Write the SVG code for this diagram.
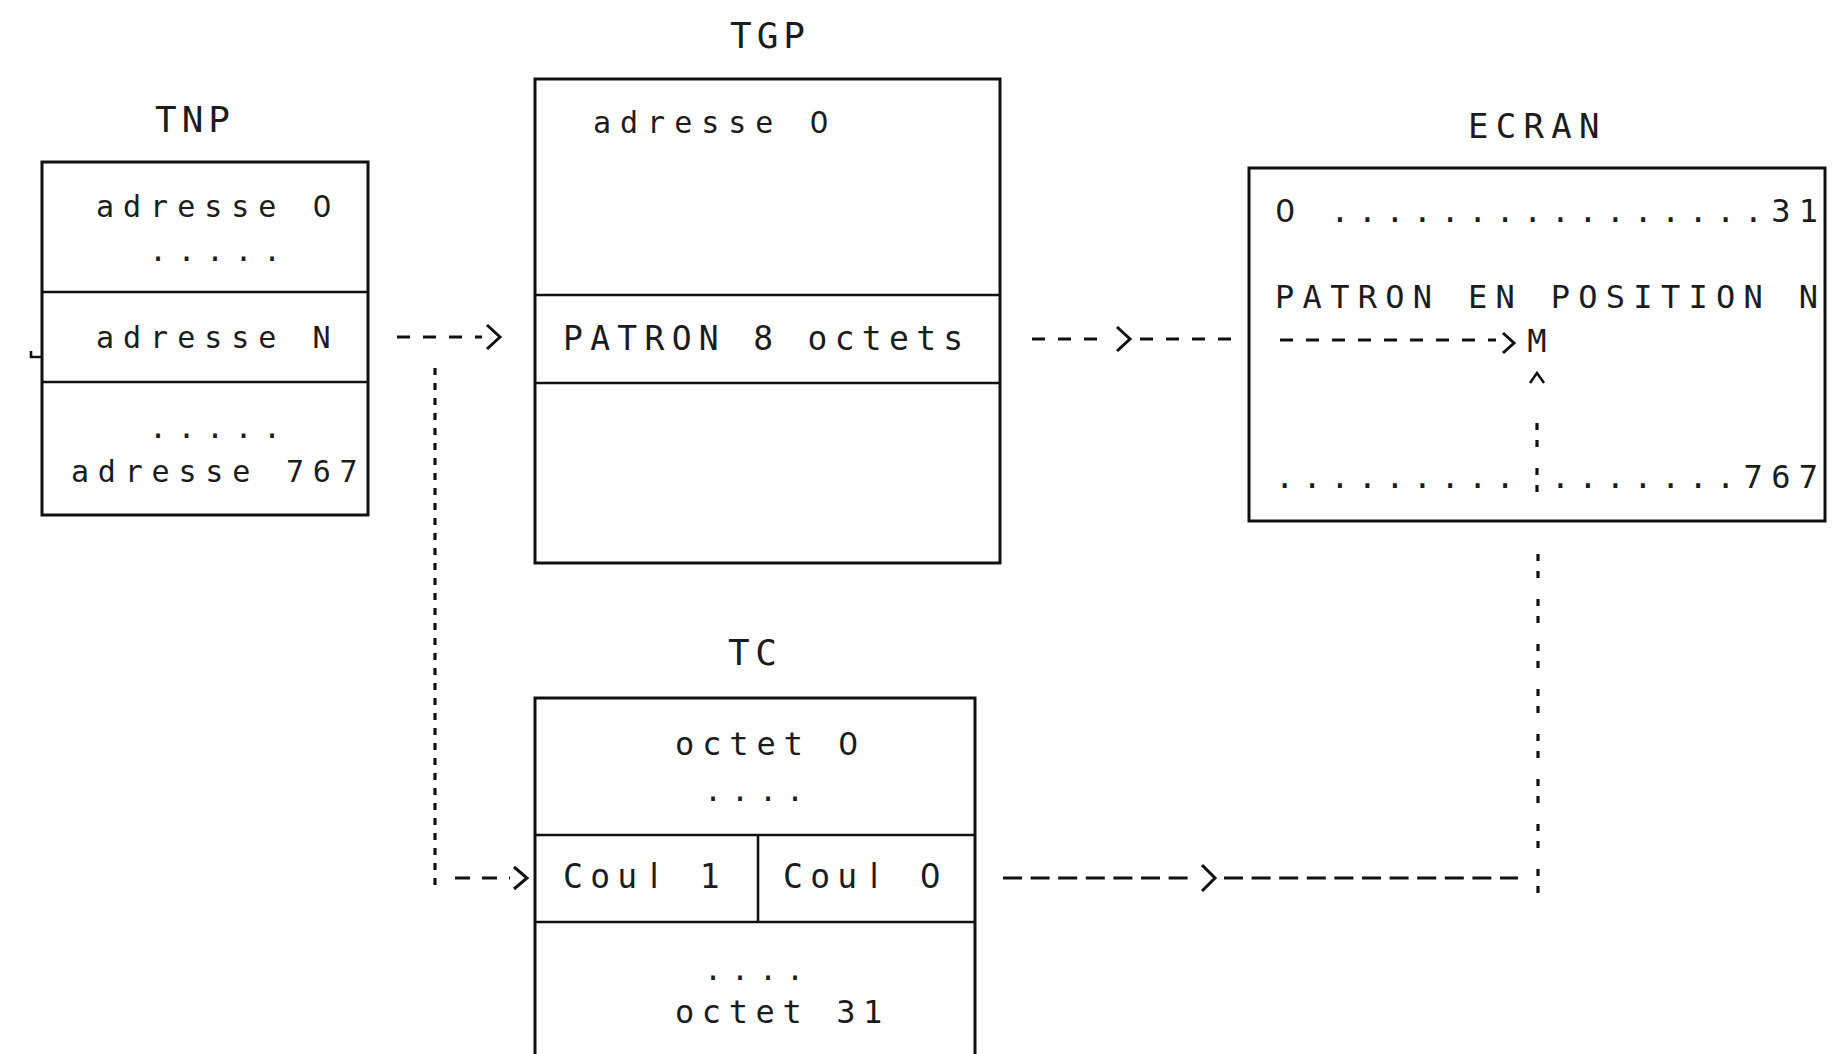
<svg xmlns="http://www.w3.org/2000/svg" width="1848" height="1054" viewBox="0 0 1848 1054">
<style>
  text { font-family: 'DejaVu Sans Mono', 'Liberation Mono', monospace; fill: #1c1c1c; }
  .z { font-family: 'DejaVu Sans', 'Liberation Sans', sans-serif; }
  .lbl { font-size: 36px; letter-spacing: 5px; }
  .t30 { font-size: 30px; letter-spacing: 9px; }
  .t32 { font-size: 32px; letter-spacing: 8.3px; }
  .t33 { font-size: 33px; letter-spacing: 7.3px; }
  .dot { font-size: 30px; text-anchor: middle; }
  .box { fill: none; stroke: #111; stroke-width: 3; }
  .div { fill: none; stroke: #111; stroke-width: 2.6; }
  .dash { fill: none; stroke: #111; stroke-width: 3; stroke-dasharray: 13 13; }
  .dashl { fill: none; stroke: #111; stroke-width: 3; stroke-dasharray: 19 8.6; }
  .vcol { fill: none; stroke: #111; stroke-width: 3.2; stroke-dasharray: 7 10 7 21; }
  .vdot { fill: none; stroke: #111; stroke-width: 3.2; stroke-dasharray: 7 8; }
  .chev { fill: none; stroke: #111; stroke-width: 3; stroke-linejoin: miter; }
</style>
<rect x="0" y="0" width="1848" height="1054" fill="#ffffff"/>

<g id="TNP">
  <text class="lbl" x="155" y="132">TNP</text>
  <rect class="box" x="42" y="162" width="326" height="353"/>
  <line class="div" x1="42" y1="292" x2="368" y2="292"/>
  <line class="div" x1="42" y1="382" x2="368" y2="382"/>
  <path class="div" d="M31,351 L31,357 L42,357"/>
  <text class="t30" x="96" y="217">adresse <tspan class="z">0</tspan></text>
  <text class="dot" x="158 186.5 215 243.5 272" y="261">.....</text>
  <text class="t30" x="96" y="348">adresse N</text>
  <text class="dot" x="158 186.5 215 243.5 272" y="438">.....</text>
  <text class="t30" x="71" y="482" style="letter-spacing:8.8px">adresse 767</text>
</g>

<g id="TGP">
  <text class="lbl" x="730" y="48">TGP</text>
  <rect class="box" x="535" y="79" width="465" height="484"/>
  <line class="div" x1="535" y1="295" x2="1000" y2="295"/>
  <line class="div" x1="535" y1="383" x2="1000" y2="383"/>
  <text class="t30" x="593" y="133">adresse <tspan class="z">0</tspan></text>
  <text class="t33" x="563" y="350">PATRON 8 octets</text>
</g>

<g id="ECRAN">
  <text class="lbl" x="1468" y="138" style="font-size:34px;letter-spacing:7.3px">ECRAN</text>
  <rect class="box" x="1249" y="168" width="576" height="353"/>
  <text class="t32" x="1275" y="222"><tspan class="z">0</tspan><tspan x="1302.6"> ................31</tspan></text>
  <text class="t32" x="1275" y="308">PATRON EN POSITION N</text>
  <text class="t32" x="1537" y="352" text-anchor="middle" style="letter-spacing:0">M</text>
  <text class="t32" x="1275" y="488">......... .......767</text>
</g>

<g id="TC">
  <text class="lbl" x="728" y="665" style="letter-spacing:5.7px">TC</text>
  <path class="box" d="M535,1060 L535,698 L975,698 L975,1060"/>
  <line class="div" x1="535" y1="835" x2="975" y2="835"/>
  <line class="div" x1="535" y1="922" x2="975" y2="922"/>
  <line class="div" x1="758" y1="835" x2="758" y2="922"/>
  <text class="t32" x="675" y="755" style="letter-spacing:7.9px">octet <tspan class="z">0</tspan></text>
  <text class="dot" x="713 740 768 795" y="801">....</text>
  <text class="t33" x="563" y="888">Cou<tspan class="z" dx="5">l</tspan><tspan x="672.7"> 1</tspan></text>
  <text class="t33" x="783" y="888">Cou<tspan class="z" dx="5">l</tspan><tspan x="892.7"> <tspan class="z">0</tspan></tspan></text>
  <text class="dot" x="713 740 768 795" y="980">....</text>
  <text class="t32" x="675" y="1023" style="letter-spacing:7.6px">octet 31</text>
</g>

<g id="connectors">
  <!-- TNP adresse N -> TGP patron -->
  <path class="dash" d="M397,337 L482,337"/>
  <polyline class="chev" points="487,325 500,337 487,349"/>
  <!-- TNP -> TC (vertical then right) -->
  <path class="vdot" d="M435,368 L435,888"/>
  <path class="dash" d="M455,878 L510,878" style="stroke-dasharray:15 12"/>
  <polyline class="chev" points="514,867 527,878 514,889"/>
  <!-- TGP -> ECRAN -->
  <path class="dash" d="M1032,339 L1110,339"/>
  <polyline class="chev" points="1117,327 1130,339 1117,351"/>
  <path class="dash" d="M1140,339 L1242,339"/>
  <path class="dash" d="M1280,340 L1496,340"/>
  <polyline class="chev" points="1503,333 1514,343 1503,353"/>
  <!-- TC -> ECRAN -->
  <path class="dashl" d="M1003,878 L1196,878"/>
  <polyline class="chev" points="1202,865 1215,878 1202,891"/>
  <path class="dashl" d="M1224,878 L1518,878"/>
  <path class="vcol" d="M1538,893 L1538,550"/>
  <path class="vcol" d="M1537,492 L1537,418"/>
  <polyline class="chev" points="1530,383 1537,373 1544,383" style="stroke-width:2.5"/>
</g>
</svg>
